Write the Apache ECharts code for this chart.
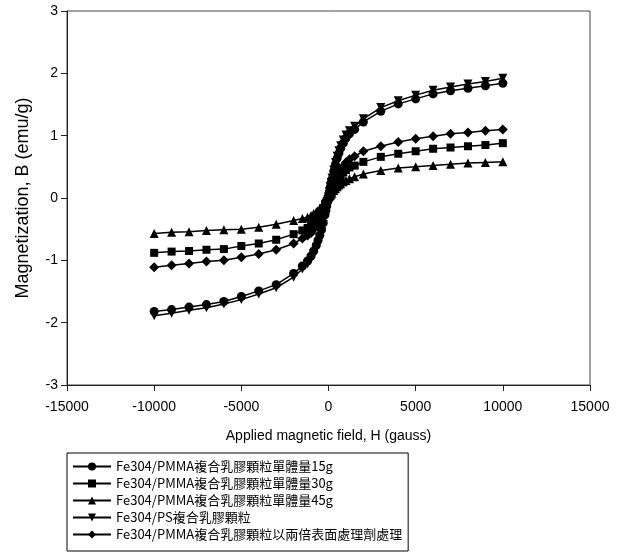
<!DOCTYPE html>
<html>
<head>
<meta charset="utf-8">
<script src="https://cdn.jsdelivr.net/npm/echarts@6/dist/echarts.min.js"></script>
<style>
html,body{margin:0;padding:0;background:#fff;}
#chart{width:623px;height:556px;}
</style>
</head>
<body>
<div id="chart"></div>
<script>
// Applied field (gauss)
const fieldH = [-10000,-9000,-8000,-7000,-6000,-5000,-4000,-3000,-2000,-1500,-1200,-1000,-850,-700,-600,-500,-400,-300,-200,-150,-100,-50,0,50,100,150,200,300,400,500,600,700,850,1000,1200,1500,2000,3000,4000,5000,6000,7000,8000,9000,10000];

const seriesNames = [
  'Fe304/PMMA複合乳膠顆粒單體量15g',
  'Fe304/PMMA複合乳膠顆粒單體量30g',
  'Fe304/PMMA複合乳膠顆粒單體量45g',
  'Fe304/PS複合乳膠顆粒',
  'Fe304/PMMA複合乳膠顆粒以兩倍表面處理劑處理'
];

const mag15g = [-1.82,-1.79,-1.75,-1.71,-1.66,-1.58,-1.49,-1.39,-1.21,-1.09,-1.01,-0.93,-0.85,-0.76,-0.68,-0.60,-0.51,-0.40,-0.27,-0.20,-0.13,-0.06,0.02,0.10,0.17,0.24,0.30,0.43,0.54,0.64,0.72,0.80,0.88,0.96,1.03,1.10,1.22,1.39,1.51,1.59,1.67,1.72,1.76,1.80,1.84];
const mag30g = [-0.88,-0.86,-0.85,-0.83,-0.82,-0.77,-0.73,-0.67,-0.58,-0.52,-0.48,-0.44,-0.40,-0.35,-0.31,-0.26,-0.21,-0.16,-0.10,-0.08,-0.05,-0.02,0.01,0.04,0.06,0.09,0.11,0.17,0.22,0.27,0.32,0.36,0.41,0.45,0.49,0.52,0.58,0.66,0.71,0.75,0.79,0.81,0.83,0.85,0.88];
const mag45g = [-0.57,-0.55,-0.54,-0.52,-0.51,-0.50,-0.47,-0.42,-0.36,-0.33,-0.31,-0.28,-0.25,-0.22,-0.20,-0.17,-0.14,-0.11,-0.07,-0.05,-0.03,-0.01,0.01,0.03,0.04,0.06,0.08,0.12,0.15,0.18,0.21,0.23,0.26,0.28,0.31,0.34,0.385,0.44,0.48,0.50,0.52,0.54,0.56,0.57,0.58];
const magPS = [-1.89,-1.85,-1.80,-1.76,-1.70,-1.63,-1.54,-1.44,-1.27,-1.14,-1.06,-0.98,-0.89,-0.80,-0.72,-0.64,-0.54,-0.43,-0.29,-0.21,-0.14,-0.06,0.02,0.10,0.18,0.25,0.32,0.45,0.57,0.67,0.76,0.84,0.93,1.01,1.08,1.15,1.27,1.45,1.56,1.65,1.73,1.78,1.83,1.87,1.92];
const magTreated = [-1.11,-1.08,-1.05,-1.02,-1.00,-0.95,-0.90,-0.83,-0.73,-0.65,-0.60,-0.56,-0.50,-0.44,-0.39,-0.33,-0.27,-0.21,-0.14,-0.11,-0.07,-0.03,0.01,0.05,0.08,0.12,0.15,0.22,0.28,0.34,0.40,0.45,0.51,0.57,0.62,0.67,0.75,0.83,0.90,0.95,0.99,1.03,1.05,1.08,1.10];

const xTicks = {min:-15000, max:15000, interval:5000};
const yTicks = {min:-3, max:3, interval:1};

const allMag = [mag15g, mag30g, mag45g, magPS, magTreated];
const symbols = ['circle','rect','triangle','triangle','diamond'];
const symbolSizes = [9,8,9,9,10];
const symbolRotates = [0,0,0,180,0];

const FONT = '"Liberation Sans", Arial, sans-serif';
const LEGEND_FONT = '"Liberation Sans Narrow", "Arial Narrow", "Noto Sans CJK TC", sans-serif';

const series = allMag.map((vals, i) => ({
  name: seriesNames[i],
  type: 'line',
  data: fieldH.map((h, j) => [h, vals[j]]),
  symbol: symbols[i],
  symbolSize: symbolSizes[i],
  symbolRotate: symbolRotates[i],
  showAllSymbol: true,
  lineStyle: {color:'#000', width:1.5},
  itemStyle: {color:'#000', borderWidth:0},
  emphasis: {disabled:true},
  animation: false,
  z: 2 + i
}));

const chart = echarts.init(document.getElementById('chart'), null, {renderer:'canvas'});
chart.setOption({
  backgroundColor: '#fff',
  animation: false,
  grid: {left:67, right:33, top:11, bottom:171, show:true, borderColor:'#444', borderWidth:1, containLabel:false},
  xAxis: {
    type:'value', min:xTicks.min, max:xTicks.max, interval:xTicks.interval,
    name:'Applied magnetic field, H (gauss)', nameLocation:'middle', nameGap:44,
    nameTextStyle:{fontFamily:FONT, fontSize:14, color:'#000'},
    axisLine:{onZero:false, lineStyle:{color:'#222', width:1}},
    axisTick:{show:true, inside:false, length:6, lineStyle:{color:'#222'}},
    axisLabel:{fontFamily:FONT, fontSize:14, color:'#000', margin:15, formatter: v => String(v)},
    splitLine:{show:false}
  },
  yAxis: {
    type:'value', min:yTicks.min, max:yTicks.max, interval:yTicks.interval,
    name:'Magnetization, B (emu/g)', nameLocation:'middle', nameGap:35,
    nameTextStyle:{fontFamily:FONT, fontSize:18, color:'#000'},
    axisLine:{show:true, onZero:false, lineStyle:{color:'#222', width:1}},
    axisTick:{show:true, inside:false, length:6, lineStyle:{color:'#222'}},
    axisLabel:{fontFamily:FONT, fontSize:14, color:'#000', margin:9},
    splitLine:{show:false}
  },
  legend: {
    orient:'vertical', left:67, top:453,
    borderColor:'#000', borderWidth:1, padding:[7,6,10,5],
    itemWidth:38, itemHeight:10, itemGap:4,
    textStyle:{fontFamily:LEGEND_FONT, fontSize:13, color:'#000'},
    data: seriesNames,
    selectedMode:false
  },
  series: series
});
</script>
</body>
</html>
